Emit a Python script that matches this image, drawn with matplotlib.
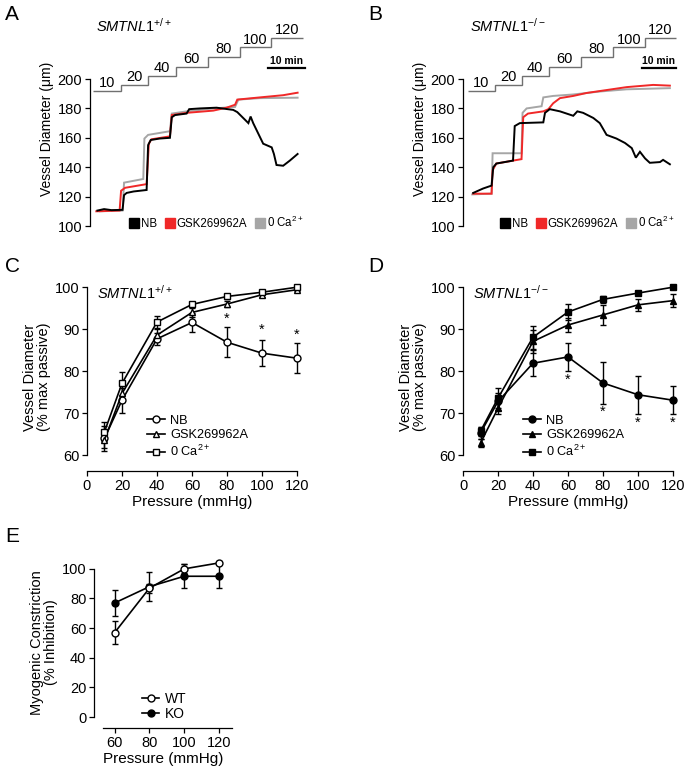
import matplotlib
matplotlib.use("Agg")
import matplotlib.pyplot as plt
from matplotlib.lines import Line2D

plt.rcParams['font.family'] = ['Liberation Sans', 'DejaVu Sans']
plt.rcParams['mathtext.fontset'] = 'custom'
plt.rcParams['mathtext.rm'] = 'Liberation Sans'
plt.rcParams['mathtext.it'] = 'Liberation Sans:italic'
plt.rcParams['axes.linewidth'] = 0.9
plt.rcParams['xtick.major.width'] = 0.9
plt.rcParams['ytick.major.width'] = 0.9
plt.rcParams['xtick.major.size'] = 3.5
plt.rcParams['ytick.major.size'] = 3.5

W, H = 685, 770

# ---- pressure steps (mmHg) shown above the traces ----
step_pressures = [10, 20, 40, 60, 80, 100, 120]
step_levels = [192, 196, 202, 208.5, 215, 221.5, 228]
step_edges_a = [0, 7.6, 14.9, 22.4, 31.0, 39.7, 48.1, 56.8]
step_edges_b = [0, 7.8, 15.7, 23.7, 33.2, 42.6, 52.0, 61.1]

# ---- panel A traces (time in min, diameter in um) ----
a_nb_t = [1.2, 3.0, 5.0, 8.0, 8.4, 9.1, 11.0, 14.5, 14.9, 15.6, 18.0, 20.8, 21.3, 22.2, 25.3, 26.0,
          28.9, 33.4, 37.9, 39.0, 42.0, 42.6, 43.3, 46.0, 48.3, 48.9, 49.6, 51.4, 53.2, 55.3]
a_nb_v = [110.5, 111.5, 110.8, 111, 121, 122.5, 123.5, 124.5, 155, 158.5, 159.5, 160, 174, 175.5, 176.5, 179.5,
          180, 180.5, 179, 177.5, 170, 174.5, 170, 156, 153.5, 149, 141.5, 141, 144.5, 149]
a_gsk_t = [0.9, 7.2, 7.6, 8.7, 14.5, 15.1, 15.8, 20.8, 21.3, 25.3, 32.5, 36.1, 38.4, 39.0, 45.1, 51.4, 55.3]
a_gsk_v = [110, 110.5, 124, 126, 128.5, 156, 159, 161, 175.5, 177, 178.5, 180.5, 182.5, 186, 187.5, 189, 190.7]
a_ca_t = [1.9, 8.0, 8.4, 13.6, 13.9, 14.9, 20.8, 21.3, 25.3, 32.5, 38.4, 39.3, 45.1, 55.3]
a_ca_v = [110, 110.5, 129.5, 132, 159.5, 162, 164.5, 176.5, 178, 180, 181, 186, 187, 187.3]

# ---- panel B traces ----
b_nb_t = [1.5, 4.4, 6.9, 7.4, 8.3, 13.2, 13.7, 15.2, 22.1, 22.6, 24.0, 27.0, 30.9, 32.1, 33.8, 36.8,
          38.7, 40.7, 43.6, 46.1, 48.1, 49.3, 50.5, 52.0, 53.4, 56.4, 57.3, 59.3]
b_nb_v = [122.5, 125.5, 127.5, 140, 142.5, 144.5, 168, 170, 170.5, 177, 179.5, 178, 175, 178, 177, 173.5,
          170, 162, 159.5, 156.5, 153, 146.5, 150.5, 146, 143, 143.5, 145, 142]
b_gsk_t = [1.5, 6.9, 7.2, 8.3, 15.7, 16.2, 17.6, 22.1, 23.6, 25.0, 27.0, 30.9, 34.8, 40.7, 46.6, 54.4, 59.3]
b_gsk_v = [122, 122, 138, 142.5, 145.5, 174, 176.5, 178, 179.5, 183.5, 187, 188.5, 190.5, 192.5, 194.5, 196, 195.5]
b_ca_t = [1.2, 6.9, 7.2, 15.7, 16.0, 17.2, 21.6, 22.1, 25.0, 30.9, 38.7, 46.6, 59.3]
b_ca_v = [121.5, 122, 149.5, 149.5, 177, 180, 181.5, 187.5, 188.5, 189.5, 191.5, 193, 193.8]

# ---- panels C / D: % max passive diameter ----
pressure = [10, 20, 40, 60, 80, 100, 120]
c_nb = [64.0, 73.1, 87.7, 91.6, 86.9, 84.3, 83.1]
c_nb_err = [3.0, 3.0, 1.5, 2.3, 3.6, 3.1, 3.5]
c_gsk = [63.7, 74.7, 88.6, 94.0, 96.0, 98.2, 99.4]
c_gsk_err = [2.0, 2.0, 1.5, 1.0, 0.8, 0.6, 0.4]
c_ca = [65.6, 77.1, 91.7, 95.9, 97.8, 98.8, 100.0]
c_ca_err = [2.2, 2.7, 1.5, 0.6, 0.5, 0.4, 0.2]
c_star_x = [80, 100, 120]
c_star_y = [92.4, 89.8, 88.6]

d_nb = [65.3, 72.8, 81.9, 83.4, 77.2, 74.4, 73.1]
d_nb_err = [1.5, 2.0, 3.1, 3.4, 4.9, 4.5, 3.3]
d_gsk = [62.9, 71.2, 87.1, 91.0, 93.4, 95.8, 96.8]
d_gsk_err = [1.0, 1.5, 2.7, 1.6, 2.3, 1.5, 1.5]
d_ca = [65.7, 73.6, 88.1, 94.1, 97.1, 98.6, 100.0]
d_ca_err = [1.0, 2.4, 2.7, 1.8, 0.8, 0.4, 0.2]
d_star_x = [60, 80, 100, 120]
d_star_y = [78.0, 70.3, 67.7, 67.8]

# ---- panel E: myogenic constriction ----
e_pressure = [60, 80, 100, 120]
e_wt = [57, 87, 100, 104]
e_wt_err = [8, 3, 3, 1]
e_ko = [77, 88, 95, 95]
e_ko_err = [9, 10, 8, 8]

RED = '#f02828'
GRAY = '#a6a6a6'
STEP = '#707070'
TICK_FS = 10.5
LABEL_FS = 10.5


def px_axes(fig, left, top, right, bottom):
    return fig.add_axes([left / W, 1 - bottom / H, (right - left) / W, (bottom - top) / H])


def trace_panel(ax, edges, xlim, traces, title):
    ax.set_xlim(*xlim)
    ax.set_ylim(100, 232)
    for sp in ['top', 'right', 'bottom']:
        ax.spines[sp].set_visible(False)
    ax.spines['left'].set_bounds(100, 200)
    ax.set_xticks([])
    ax.set_yticks([100, 120, 140, 160, 180, 200])
    ax.tick_params(axis='y', labelsize=TICK_FS, pad=2)
    ax.set_ylabel('Vessel Diameter (μm)', fontsize=10, labelpad=3)
    ax.stairs(step_levels, edges, baseline=None, color=STEP, lw=1.0, clip_on=False)
    for p, lvl, e0, e1 in zip(step_pressures, step_levels, edges[:-1], edges[1:]):
        ax.text((e0 + e1) / 2, lvl + 0.6, str(p), ha='center', va='bottom', fontsize=10.5)
    for t, v, c in traces:
        ax.plot(t, v, color=c, lw=1.4, solid_joinstyle='miter')
    x1 = xlim[1]
    ax.plot([x1 - 10, x1], [207.5, 207.5], color='black', lw=1.6, clip_on=False)
    ax.text(x1 - 5, 209, '10 min', ha='center', va='bottom', fontsize=7.5, fontweight='bold')
    ax.text(edges[0] + 0.7, 236, title, fontsize=10.5, ha='left', va='center')
    handles = [Line2D([], [], ls='none', marker='s', ms=6.5, color='black'),
               Line2D([], [], ls='none', marker='s', ms=6.5, color=RED),
               Line2D([], [], ls='none', marker='s', ms=6.5, color=GRAY)]
    ax.legend(handles, ['NB', 'GSK269962A', r'0 Ca$^{2+}$'], ncol=3, frameon=False,
              loc='lower right', bbox_to_anchor=(1.03, -0.06), fontsize=8.3,
              handlelength=0.6, handletextpad=0.3, columnspacing=0.8, borderpad=0.2)


def curve_panel(ax, data, filled, title, stars):
    ax.set_xlim(0, 120)
    ax.set_ylim(56.25, 101)
    ax.spines['top'].set_visible(False)
    ax.spines['right'].set_visible(False)
    ax.spines['left'].set_bounds(60, 100)
    ax.set_xticks([0, 20, 40, 60, 80, 100, 120])
    ax.set_yticks([60, 70, 80, 90, 100])
    ax.tick_params(labelsize=TICK_FS, pad=2)
    ax.set_xlabel('Pressure (mmHg)', fontsize=11, labelpad=2)
    ax.set_ylabel('Vessel Diameter\n(% max passive)', fontsize=LABEL_FS, labelpad=3, linespacing=1.0)
    handles = []
    for y, err, m, lab in data:
        fc = 'black' if filled else 'white'
        ax.errorbar(pressure, y, yerr=err, fmt='-', marker=m, ms=5, mfc=fc, mec='black', mew=1.0,
                    color='black', lw=1.2, ecolor='black', elinewidth=1.0, capsize=2.2, capthick=1.0,
                    clip_on=False, zorder=3)
        handles.append(Line2D([], [], color='black', lw=1.2, marker=m, ms=5, mfc=fc, mec='black'))
    ax.legend(handles, [d[3] for d in data], frameon=False, loc='upper left',
              bbox_to_anchor=(0.25, 0.34), fontsize=9.2, handlelength=1.4, handletextpad=0.4,
              labelspacing=0.2, borderpad=0.1)
    for sx, sy in zip(*stars):
        ax.text(sx, sy, '*', ha='center', va='center', fontsize=10.5)
    ax.text(5.5, 98.6, title, fontsize=10.5, ha='left', va='center')


fig = plt.figure(figsize=(W / 100, H / 100), dpi=100)

# panel A
ax_a = px_axes(fig, 90, 32, 305, 226)
trace_panel(ax_a, step_edges_a, (-0.8, 57.3),
            [(a_ca_t, a_ca_v, GRAY), (a_gsk_t, a_gsk_v, RED), (a_nb_t, a_nb_v, 'black')],
            r'$\mathit{SMTNL1}^{+/+}$')

# panel B
ax_b = px_axes(fig, 463, 32, 676, 226)
trace_panel(ax_b, step_edges_b, (-1.5, 61.1),
            [(b_ca_t, b_ca_v, GRAY), (b_gsk_t, b_gsk_v, RED), (b_nb_t, b_nb_v, 'black')],
            r'$\mathit{SMTNL1}^{-/-}$')

# panel C
ax_c = px_axes(fig, 87, 283, 297, 471)
curve_panel(ax_c, [(c_nb, c_nb_err, 'o', 'NB'), (c_gsk, c_gsk_err, '^', 'GSK269962A'),
                   (c_ca, c_ca_err, 's', r'0 Ca$^{2+}$')],
            False, r'$\mathit{SMTNL1}^{+/+}$', (c_star_x, c_star_y))

# panel D
ax_d = px_axes(fig, 463, 283, 673, 471)
curve_panel(ax_d, [(d_nb, d_nb_err, 'o', 'NB'), (d_gsk, d_gsk_err, '^', 'GSK269962A'),
                   (d_ca, d_ca_err, 's', r'0 Ca$^{2+}$')],
            True, r'$\mathit{SMTNL1}^{-/-}$', (d_star_x, d_star_y))

# panel E
ax_e = px_axes(fig, 94, 557, 232, 728)
ax_e.set_xlim(48.1, 127.5)
ax_e.set_ylim(-7.4, 108)
ax_e.spines['top'].set_visible(False)
ax_e.spines['right'].set_visible(False)
ax_e.spines['left'].set_bounds(0, 100)
ax_e.spines['bottom'].set_bounds(53.3, 127.5)
ax_e.set_xticks(e_pressure)
ax_e.set_yticks([0, 20, 40, 60, 80, 100])
ax_e.tick_params(labelsize=TICK_FS, pad=2)
ax_e.set_xlabel('Pressure (mmHg)', fontsize=11, labelpad=2)
ax_e.set_ylabel('Myogenic Constriction\n(% Inhibition)', fontsize=LABEL_FS, labelpad=3, linespacing=1.0)
for y, err, fc in [(e_ko, e_ko_err, 'black'), (e_wt, e_wt_err, 'white')]:
    ax_e.errorbar(e_pressure, y, yerr=err, fmt='-o', ms=5, mfc=fc, mec='black', mew=1.0,
                  color='black', lw=1.2, ecolor='black', elinewidth=1.0, capsize=2.2, capthick=1.0,
                  clip_on=False)
e_handles = [Line2D([], [], color='black', lw=1.2, marker='o', ms=5, mfc='white', mec='black'),
             Line2D([], [], color='black', lw=1.2, marker='o', ms=5, mfc='black', mec='black')]
ax_e.legend(e_handles, ['WT', 'KO'], frameon=False, loc='upper left', bbox_to_anchor=(0.29, 0.26),
            fontsize=10, handlelength=1.2, handletextpad=0.4, labelspacing=0.1, borderpad=0.1)

# panel letters
for lab, x, y in [('A', 5, 14), ('B', 368, 14), ('C', 5, 266), ('D', 368, 266), ('E', 5, 536)]:
    fig.text(x / W, 1 - y / H, lab, fontsize=15, ha='left', va='center')

fig.savefig('out.png', dpi=100)
